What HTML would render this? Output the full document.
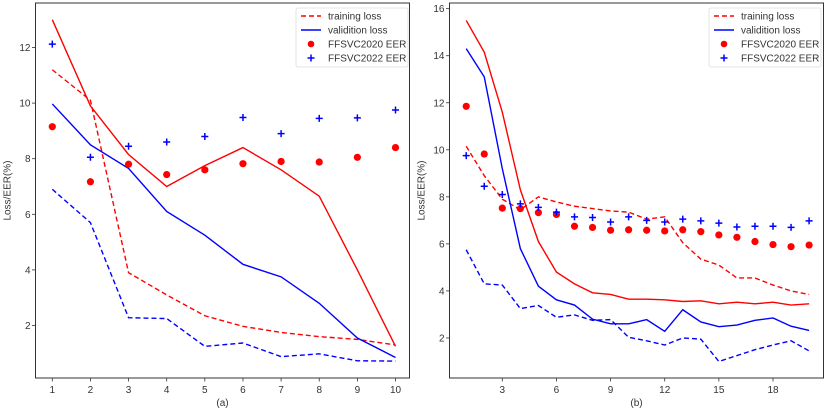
<!DOCTYPE html>
<html><head><meta charset="utf-8">
<style>
html,body{margin:0;padding:0;background:#fff;}
svg{display:block;font-family:"Liberation Sans",sans-serif;}
</style></head>
<body>
<svg id="chart" width="831" height="415" viewBox="0 0 831 415" xmlns="http://www.w3.org/2000/svg"></svg>
<script>
// Panel (a)
const aEpochs = [1,2,3,4,5,6,7,8,9,10];
const aXTicks = [1,2,3,4,5,6,7,8,9,10];
const aYTicks = [2,4,6,8,10,12];
const aTrainLoss1 = [11.2,10.1,3.9,3.1,2.35,1.97,1.75,1.6,1.5,1.3];
const aValLoss1 = [13.0,9.9,8.15,7.0,7.75,8.4,7.6,6.65,4.0,1.25];
const aValLoss2 = [9.97,8.5,7.65,6.1,5.25,4.2,3.75,2.8,1.55,0.85];
const aTrainLoss2 = [6.9,5.7,2.28,2.25,1.25,1.37,0.88,0.98,0.73,0.72];
const aEER2020 = [9.15,7.17,7.8,7.43,7.6,7.82,7.9,7.88,8.05,8.4];
const aEER2022 = [12.12,8.05,8.45,8.6,8.8,9.48,8.9,9.45,9.47,9.75];
// Panel (b)
const bEpochs = [1,2,3,4,5,6,7,8,9,10,11,12,13,14,15,16,17,18,19,20];
const bXTicks = [3,6,9,12,15,18];
const bYTicks = [2,4,6,8,10,12,14,16];
const bTrainLoss1 = [10.15,8.9,7.9,7.45,8.0,7.78,7.6,7.5,7.4,7.35,7.05,7.15,6.05,5.35,5.1,4.55,4.55,4.25,4.0,3.85];
const bValLoss1 = [15.5,14.15,11.6,8.3,6.1,4.8,4.3,3.92,3.85,3.65,3.65,3.62,3.55,3.58,3.45,3.52,3.45,3.52,3.4,3.45];
const bValLoss2 = [14.3,13.1,9.2,5.8,4.2,3.62,3.4,2.8,2.6,2.6,2.78,2.28,3.2,2.68,2.48,2.55,2.75,2.85,2.5,2.32];
const bTrainLoss2 = [5.75,4.3,4.25,3.25,3.38,2.88,2.98,2.75,2.78,2.03,1.88,1.7,2.0,1.95,1.0,1.25,1.5,1.7,1.88,1.45];
const bEER2020 = [11.85,9.82,7.52,7.5,7.33,7.25,6.75,6.7,6.58,6.6,6.58,6.55,6.6,6.52,6.38,6.28,6.1,5.97,5.88,5.95];
const bEER2022 = [9.75,8.45,8.1,7.7,7.55,7.35,7.15,7.12,6.93,7.15,7.0,6.93,7.05,6.98,6.88,6.72,6.75,6.75,6.7,6.98];

const NS = "http://www.w3.org/2000/svg";
const svg = document.getElementById('chart');
function mk(tag, attrs, parent){const e=document.createElementNS(NS,tag);for(const k in attrs)e.setAttribute(k,attrs[k]);(parent||svg).appendChild(e);return e;}

function panel(cfg){
  const g = mk('g',{});
  
  
  const sx = v => cfg.x0px + (v - cfg.x0v) * cfg.xs;
  const sy = v => cfg.y0px - v * cfg.ys;
  const frame = mk('rect',{x:cfg.L,y:cfg.T,width:cfg.R-cfg.L,height:cfg.B-cfg.T,fill:'none',stroke:'#333','stroke-width':1},g);
  
  
  cfg.xt.forEach(t=>{
    const x=sx(t);
    mk('line',{x1:x,x2:x,y1:cfg.B,y2:cfg.B+3.5,stroke:'#333','stroke-width':0.8},g);
    const tx=mk('text',{x:x,y:cfg.B+15,'font-size':10,'text-anchor':'middle',fill:'#333'},g);
    tx.textContent=t;
    
    
  });
  cfg.yt.forEach(t=>{
    const y=sy(t);
    mk('line',{x1:cfg.L-3.5,x2:cfg.L,y1:y,y2:y,stroke:'#333','stroke-width':0.8},g);
    const tx=mk('text',{x:cfg.L-5,y:y+3.5,'font-size':10,'text-anchor':'end',fill:'#333'},g);
    tx.textContent=t;
    
    
  });
  const yl=mk('text',{x:0,y:0,'font-size':10,'text-anchor':'middle',fill:'#333',transform:`translate(${cfg.L-25},${(cfg.T+cfg.B)/2}) rotate(-90)`},g);
  yl.textContent='Loss/EER(%)';
  
  
  const xl=mk('text',{x:(cfg.L+cfg.R)/2,y:cfg.B+28,'font-size':10,'text-anchor':'middle',fill:'#333'},g);
  xl.textContent=cfg.label;
  
  
  function line(vals,color,dash,name){
    const p=mk('polyline',{points:vals.map((v,i)=>sx(cfg.ep[i])+','+sy(v)).join(' '),fill:'none',stroke:color,'stroke-width':1.4,'stroke-dasharray':dash||'none'},g);
    
    
  }
  line(cfg.tl1,'#ff0000','5,3','red-training-loss');
  line(cfg.vl1,'#ff0000','','red-validation-loss');
  line(cfg.vl2,'#0000ff','','blue-validation-loss');
  line(cfg.tl2,'#0000ff','5,3','blue-training-loss');
  cfg.e20.forEach((v,i)=>{
    const c=mk('circle',{cx:sx(cfg.ep[i]),cy:sy(v),r:3.6,fill:'#ff0000'},g);
    
    
  });
  cfg.e22.forEach((v,i)=>{
    const x=sx(cfg.ep[i]),y=sy(v);
    const p=mk('path',{d:`M${x-3.5},${y}H${x+3.5}M${x},${y-3.5}V${y+3.5}`,stroke:'#0000ff','stroke-width':1.5,fill:'none'},g);
    
    
  });
  const lg=mk('g',{},g);
  
  
  const lx=cfg.lx, ly=8;
  mk('rect',{x:lx,y:ly,width:112,height:59,rx:2,fill:'#fff',stroke:'#ddd','stroke-width':0.8},lg);
  const rows=[['training loss','dash'],['validition loss','solid'],['FFSVC2020 EER','dot'],['FFSVC2022 EER','plus']];
  rows.forEach((r,i)=>{
    const y=ly+8+i*14;
    if(r[1]==='dash') mk('line',{x1:lx+5,x2:lx+25,y1:y,y2:y,stroke:'#ff0000','stroke-width':1.4,'stroke-dasharray':'5,3'},lg);
    if(r[1]==='solid') mk('line',{x1:lx+5,x2:lx+25,y1:y,y2:y,stroke:'#0000ff','stroke-width':1.4},lg);
    if(r[1]==='dot') mk('circle',{cx:lx+15,cy:y,r:3.3,fill:'#ff0000'},lg);
    if(r[1]==='plus') mk('path',{d:`M${lx+11.5},${y}H${lx+18.5}M${lx+15},${y-3.5}V${y+3.5}`,stroke:'#0000ff','stroke-width':1.5},lg);
    const t=mk('text',{x:lx+32,y:y+3.5,'font-size':10,fill:'#333'},lg);
    t.textContent=r[0];
    
    
  });
}

panel({name:'panel-a',L:35.5,R:409.5,T:3,B:378,x0v:1,x0px:52.3,xs:(395.5-52.3)/9,y0px:381.1,ys:27.8,
  xt:aXTicks,yt:aYTicks,ep:aEpochs,tl1:aTrainLoss1,vl1:aValLoss1,vl2:aValLoss2,tl2:aTrainLoss2,e20:aEER2020,e22:aEER2022,label:'(a)',lx:296});
panel({name:'panel-b',L:449.5,R:823.5,T:3,B:378,x0v:3,x0px:502.3,xs:(773-502.3)/15,y0px:385.0,ys:23.52,
  xt:bXTicks,yt:bYTicks,ep:bEpochs,tl1:bTrainLoss1,vl1:bValLoss1,vl2:bValLoss2,tl2:bTrainLoss2,e20:bEER2020,e22:bEER2022,label:'(b)',lx:709});
</script>
</body></html>
